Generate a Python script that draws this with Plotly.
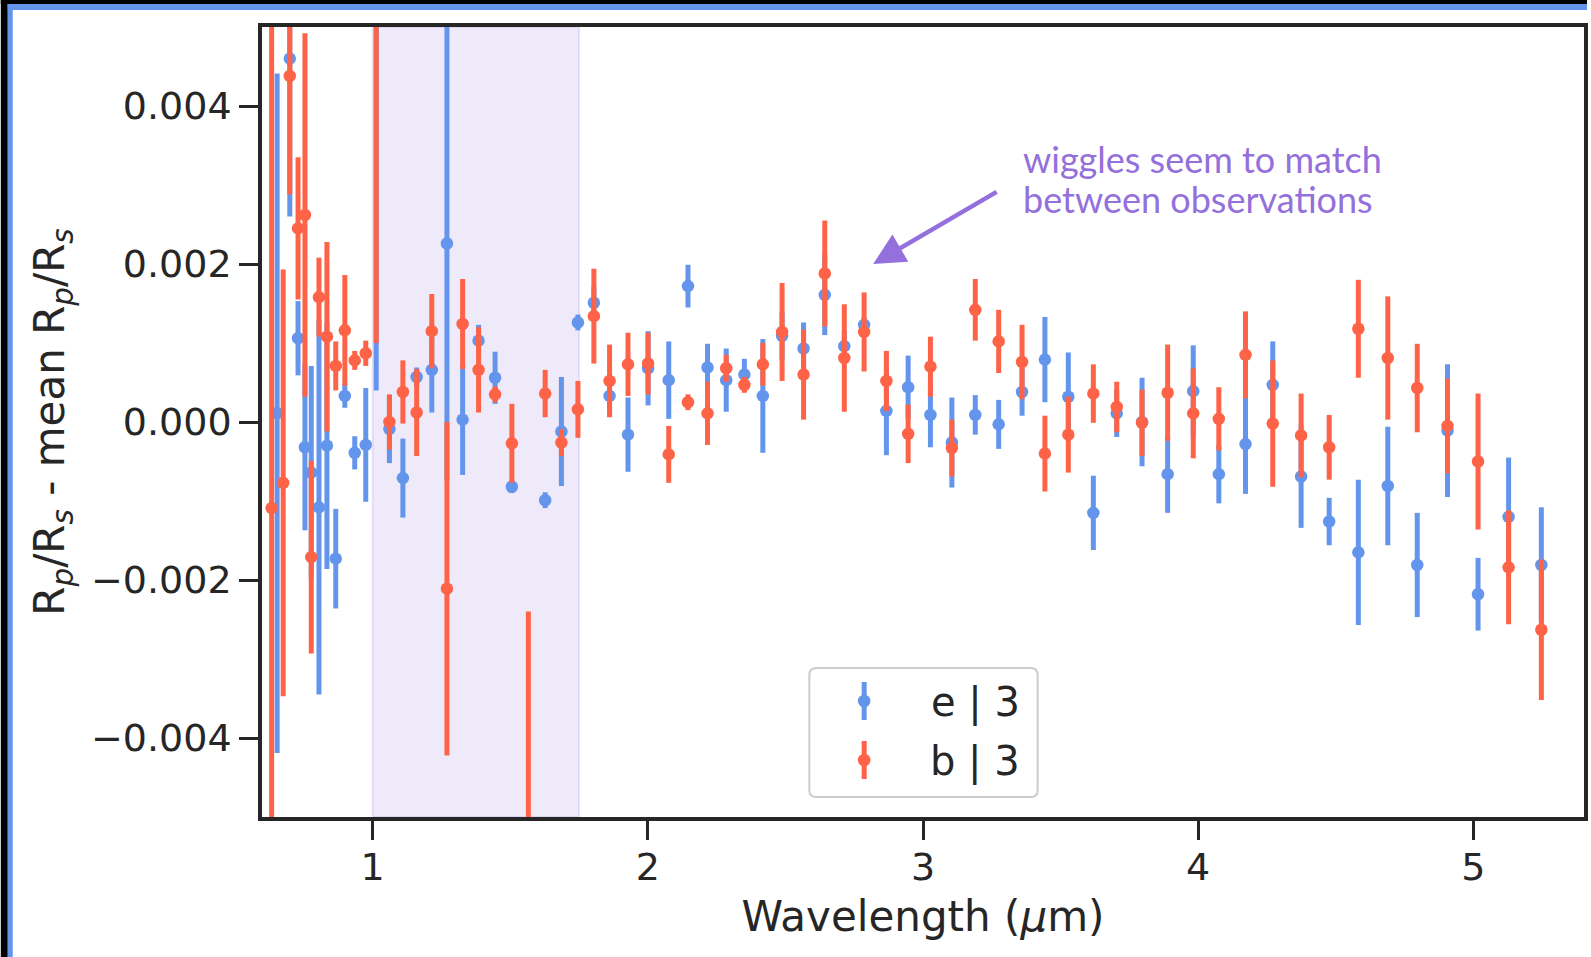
import plotly.graph_objects as go

# Wavelength bins (micron) shared by both observations
wavelength = [0.633, 0.653, 0.675, 0.699, 0.729, 0.754, 0.777, 0.805, 0.834, 0.866,
              0.899, 0.935, 0.975, 1.013, 1.061, 1.110, 1.160, 1.215, 1.270, 1.327,
              1.385, 1.445, 1.506, 1.566, 1.627, 1.686, 1.746, 1.804, 1.861, 1.928,
              2.001, 2.076, 2.146, 2.217, 2.285, 2.351, 2.418, 2.488, 2.566, 2.643,
              2.714, 2.786, 2.867, 2.946, 3.027, 3.105, 3.190, 3.275, 3.360, 3.443,
              3.528, 3.619, 3.704, 3.796, 3.889, 3.982, 4.075, 4.172, 4.271, 4.374,
              4.476, 4.582, 4.689, 4.796, 4.906, 5.017, 5.128, 5.247]

# Planet e, visit 3: Rp/Rs minus its mean, and 1-sigma errors
e_delta = [None, 0.00011, None, 0.0046, 0.00106, -0.00032, -0.00064, -0.00108, -0.0003, -0.00173,
           0.00033, -0.00039, -0.00029, 0.0075, -0.00009, -0.00071, 0.00057, 0.00066, 0.00226, 0.00003,
           0.00103, 0.00056, -0.00082, None, -0.00099, -0.00012, 0.00126, 0.00151, 0.00033, -0.00016,
           0.00068, 0.00053, 0.00172, 0.00069, 0.00053, 0.0006, 0.00033, 0.00109, 0.00093, 0.00161,
           0.00096, 0.00123, 0.00014, 0.00044, 0.00009, -0.00026, 0.00009, -0.00003, 0.00038, 0.00079,
           0.00032, -0.00115, 0.00011, 0.0, -0.00066, 0.00039, -0.00066, -0.00028, 0.00047, -0.00069,
           -0.00126, -0.00165, -0.00081, -0.00181, -0.00011, -0.00218, -0.0012, -0.00181]
e_err = [None, 0.0043, None, 0.0020, 0.00047, 0.00105, 0.00135, 0.00237, 0.00156, 0.00063,
         0.00015, 0.00021, 0.00072, 0.0071, 0.00043, 0.0005, 0.00012, 0.00054, 0.0030, 0.0007,
         0.0002, 0.00033, 0.00008, None, 0.0001, 0.00069, 0.0001, 0.0002, 0.0002, 0.00047,
         0.00047, 0.00049, 0.00027, 0.0003, 0.0004, 0.0002, 0.00072, 0.0003, 0.00033, 0.00051,
         0.0002, 0.0001, 0.00056, 0.0004, 0.00041, 0.00057, 0.00025, 0.00031, 0.0003, 0.00054,
         0.00056, 0.00047, 0.0003, 0.00056, 0.00049, 0.00058, 0.00037, 0.00063, 0.00055, 0.00065,
         0.0003, 0.00092, 0.00075, 0.00066, 0.00084, 0.00046, 0.00075, 0.00073]

# Planet b, visit 3
b_delta = [-0.00109, None, -0.00077, 0.00438, 0.00245, 0.00262, -0.00171, 0.00158, 0.00108, 0.00071,
           0.00116, 0.00078, 0.00087, 0.0075, 0.0, 0.00038, 0.00012, 0.00115, -0.00211, 0.00124,
           0.00066, 0.00035, -0.00027, -0.0075, 0.00036, -0.00026, 0.00016, 0.00134, 0.00052, 0.00073,
           0.00074, -0.00041, 0.00025, 0.00011, 0.00068, 0.00047, 0.00073, 0.00114, 0.0006, 0.00188,
           0.00081, 0.00114, 0.00052, -0.00015, 0.0007, -0.00033, 0.00142, 0.00102, 0.00076, -0.0004,
           -0.00016, 0.00036, 0.00019, -0.00001, 0.00037, 0.00011, 0.00004, 0.00085, -0.00002, -0.00017,
           -0.00032, 0.00118, 0.00081, 0.00043, -0.00005, -0.0005, -0.00184, -0.00263]
b_err = [0.0065, None, 0.0027, 0.0015, 0.0009, 0.0023, 0.00122, 0.0005, 0.0012, 0.00031,
         0.0007, 0.00012, 0.00016, 0.0065, 0.00035, 0.0004, 0.00055, 0.00047, 0.00211, 0.00057,
         0.00054, 0.0001, 0.0005, 0.0051, 0.0003, 0.00017, 0.00036, 0.0006, 0.00046, 0.0004,
         0.00039, 0.00036, 0.0001, 0.0004, 0.00017, 0.0001, 0.00027, 0.00062, 0.00057, 0.00067,
         0.00068, 0.0005, 0.00038, 0.00037, 0.00038, 0.00036, 0.00039, 0.0004, 0.00047, 0.00048,
         0.00048, 0.00037, 0.00032, 0.00042, 0.00061, 0.00057, 0.0004, 0.00055, 0.0008, 0.00053,
         0.00041, 0.00062, 0.00078, 0.00056, 0.0006, 0.00086, 0.00072, 0.00089]

series_names = ["e | 3", "b | 3"]
series_colors = ["#6495ED", "#FF6347"]  # cornflowerblue, tomato

x_tickvals = [1, 2, 3, 4, 5]
x_ticktext = ["1", "2", "3", "4", "5"]
y_tickvals = [-0.004, -0.002, 0.0, 0.002, 0.004]
y_ticktext = ["\u22120.004", "\u22120.002", "0.000", "0.002", "0.004"]

highlight_band = (1.0, 1.75)
note_lines = ["wiggles seem to match", "between observations"]

W, H = 1591, 957
ML, MR, MT, MB = 262, 3, 27, 140
PW, PH = W - ML - MR, H - MT - MB
INK = "#262626"
PURPLE = "#9370DB"


def fx(p):
    """pixel column -> paper x"""
    return (p - ML) / PW


def fy(p):
    """pixel row -> paper y"""
    return (H - MB - p) / PH


fig = go.Figure()
for vals, errs, color in [(e_delta, e_err, series_colors[0]), (b_delta, b_err, series_colors[1])]:
    fig.add_trace(go.Scatter(
        x=wavelength, y=vals, mode="markers",
        marker=dict(color=color, size=12.5, line=dict(width=0)),
        error_y=dict(type="data", array=errs, visible=True, thickness=5, width=0, color=color),
        showlegend=False, hoverinfo="x+y",
    ))

shapes = []
# window frame: dark strip and blue border around the white page
shapes.append(dict(type="rect", xref="paper", yref="paper", x0=fx(0), x1=fx(W), y0=fy(0), y1=fy(4),
                   fillcolor="black", line_width=0, layer="below"))
shapes.append(dict(type="rect", xref="paper", yref="paper", x0=fx(0), x1=fx(7), y0=fy(0), y1=fy(H),
                   fillcolor="black", line_width=0, layer="below"))
shapes.append(dict(type="rect", xref="paper", yref="paper", x0=fx(7), x1=fx(W), y0=fy(4), y1=fy(10),
                   fillcolor="#6495ED", line_width=0, layer="below"))
shapes.append(dict(type="rect", xref="paper", yref="paper", x0=fx(7), x1=fx(12), y0=fy(4), y1=fy(H),
                   fillcolor="#6495ED", line_width=0, layer="below"))

# shaded wavelength band
shapes.append(dict(type="rect", xref="x", yref="paper", x0=highlight_band[0], x1=highlight_band[1],
                   y0=0, y1=1, fillcolor="rgba(147,112,219,0.15)",
                   line=dict(color="rgba(147,112,219,0.18)", width=2), layer="below"))

# legend box with rounded corners
lx0, lx1, ly0, ly1, r = 811, 1040, 668, 797, 7
rx, ry = r / PW, r / PH
X0, X1, Y0, Y1 = fx(lx0), fx(lx1), fy(ly1), fy(ly0)
path = (f"M {X0+rx},{Y0} L {X1-rx},{Y0} Q {X1},{Y0} {X1},{Y0+ry} L {X1},{Y1-ry} "
        f"Q {X1},{Y1} {X1-rx},{Y1} L {X0+rx},{Y1} Q {X0},{Y1} {X0},{Y1-ry} "
        f"L {X0},{Y0+ry} Q {X0},{Y0} {X0+rx},{Y0} Z")
shapes.append(dict(type="path", xref="paper", yref="paper", path=path,
                   fillcolor="rgba(255,255,255,0.85)", line=dict(color="#CCCCCC", width=2)))

annotations = []
for i, (name, color) in enumerate(zip(series_names, series_colors)):
    cy = 701 + i * 59
    shapes.append(dict(type="line", xref="paper", yref="paper", x0=fx(866), x1=fx(866),
                       y0=fy(cy - 19), y1=fy(cy + 19), line=dict(color=color, width=5)))
    shapes.append(dict(type="circle", xref="paper", yref="paper", x0=fx(866 - 6.3), x1=fx(866 + 6.3),
                       y0=fy(cy + 6.3), y1=fy(cy - 6.3), fillcolor=color, line_width=0))
    annotations.append(dict(xref="paper", yref="paper", x=fx(1024), y=fy(cy + 1), text=name,
                            showarrow=False, xanchor="right", yanchor="middle",
                            font=dict(family="DejaVu Sans", size=40, color=INK)))

# note (two lines, 40 px apart) and its arrow
for line, row in zip(note_lines, [159, 199]):
    annotations.append(dict(xref="paper", yref="paper", x=fx(1023), y=fy(row), text=line,
                            showarrow=False, xanchor="left", yanchor="middle", align="left",
                            font=dict(family="Lato", size=36, color=PURPLE)))
annotations.append(dict(xref="paper", yref="paper", x=fx(875), y=fy(264), text="",
                        showarrow=True, axref="pixel", ayref="pixel", ax=125, ay=-73,
                        arrowcolor=PURPLE, arrowwidth=4.5, arrowhead=2, arrowsize=1.4,
                        standoff=0, startstandoff=0))

fig.update_layout(
    width=W, height=H,
    margin=dict(l=ML, r=MR, t=MT, b=MB, pad=0),
    paper_bgcolor="white", plot_bgcolor="white",
    shapes=shapes, annotations=annotations,
    font=dict(family="DejaVu Sans", color=INK),
    showlegend=False,
)
axis_common = dict(showline=True, mirror=True, linecolor=INK, linewidth=3.5,
                   ticks="outside", ticklen=19, tickwidth=3, tickcolor=INK,
                   showgrid=False, zeroline=False,
                   tickfont=dict(family="DejaVu Sans", size=38, color=INK))
fig.update_xaxes(range=[0.598, 5.402], tickvals=x_tickvals, ticktext=x_ticktext,
                 ticklabelstandoff=-5,
                 title=dict(text="Wavelength (<i>\u03bc</i>m)", standoff=14,
                            font=dict(family="DejaVu Sans", size=42, color=INK)),
                 **axis_common)
fig.update_yaxes(range=[-0.005, 0.005], tickvals=y_tickvals, ticktext=y_ticktext,
                 title=dict(text="R<sub><i>p</i></sub>/R<sub><i>s</i></sub> - mean R<sub><i>p</i></sub>/R<sub><i>s</i></sub>",
                            standoff=14, font=dict(family="DejaVu Sans", size=42, color=INK)),
                 **axis_common)

fig.write_html("out.html")
